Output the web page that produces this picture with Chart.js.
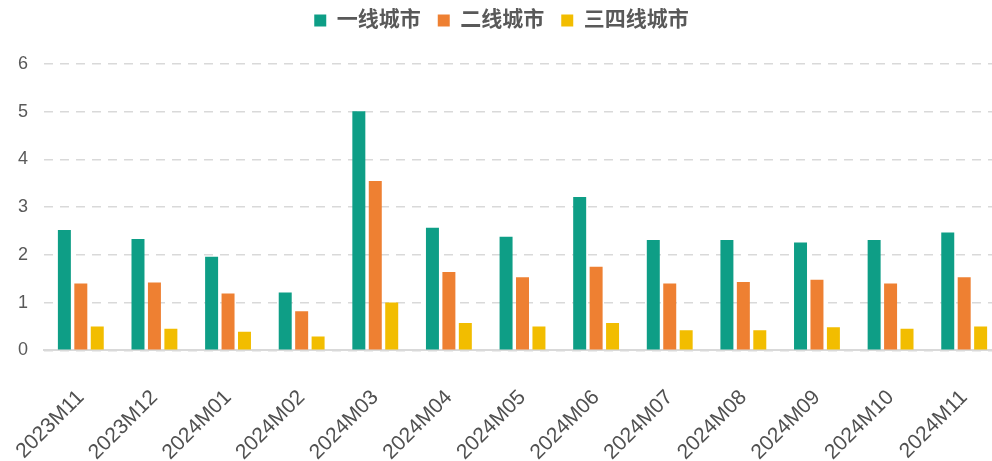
<!DOCTYPE html>
<html>
<head>
<meta charset="utf-8">
<script src="https://cdn.jsdelivr.net/npm/chart.js@4/dist/chart.umd.min.js"></script>
<style>
  html, body { margin: 0; padding: 0; background: #fff; overflow: hidden; }
  #wrap { width: 1001px; height: 461px; }
</style>
</head>
<body>
<div id="wrap"><canvas id="cityChart"></canvas></div>
<script>
// months on the x axis
const months = ["2023M11", "2023M12", "2024M01", "2024M02", "2024M03", "2024M04", "2024M05",
                "2024M06", "2024M07", "2024M08", "2024M09", "2024M10", "2024M11"];
// values
const tier1 = [2.52, 2.33, 1.96, 1.21, 5.01, 2.57, 2.38, 3.21, 2.31, 2.31, 2.26, 2.31, 2.47];
const tier2 = [1.40, 1.42, 1.19, 0.82, 3.55, 1.64, 1.53, 1.75, 1.40, 1.43, 1.48, 1.40, 1.53];
const tier34 = [0.50, 0.45, 0.39, 0.29, 1.00, 0.57, 0.50, 0.57, 0.42, 0.42, 0.48, 0.45, 0.50];
const seriesNames = ["一线城市", "二线城市", "三四线城市"];
const colors = ["#0E9E86", "#EE8032", "#F2BD00"];

const font = "'Liberation Sans', 'Noto Sans CJK SC', sans-serif";

// push the plot down below the legend
const legendSpace = {
  id: "legendSpace",
  beforeInit(chart) {
    const fit = chart.legend.fit;
    chart.legend.fit = function () {
      fit.bind(chart.legend)();
      this.height = 71;
    };
  }
};

new Chart("cityChart", {
  type: "bar",
  data: {
    labels: months,
    datasets: [tier1, tier2, tier34].map((d, i) => ({
      label: seriesNames[i],
      data: d,
      backgroundColor: colors[i],
      categoryPercentage: 0.67,
      barPercentage: 0.79
    }))
  },
  options: {
    responsive: true,
    maintainAspectRatio: false,
    animation: false,
    events: [],
    layout: { padding: { top: -7, right: 0, left: 2, bottom: -31 } },
    plugins: {
      legend: {
        position: "top",
        labels: {
          boxWidth: 12,
          boxHeight: 12,
          padding: 17,
          color: "#595959",
          font: { family: font, size: 21, weight: "bold" }
        }
      },
      tooltip: { enabled: false }
    },
    scales: {
      x: {
        grid: { display: false },
        border: { color: "#d9d9d9", width: 2 },
        ticks: {
          color: "#505050",
          font: { family: font, size: 21 },
          minRotation: 45,
          maxRotation: 45,
          padding: 27
        },
        afterFit(scale) {
          // labels may run off the left edge like in the original
          scale.paddingLeft = 0;
          scale.paddingRight = 0;
        }
      },
      y: {
        min: 0,
        max: 6,
        border: { display: false, dash: [9, 7] },
        grid: { color: "#d9d9d9", lineWidth: 1.5, drawTicks: false },
        ticks: {
          stepSize: 1,
          color: "#595959",
          font: { family: font, size: 18 },
          padding: 16
        }
      }
    }
  },
  plugins: [legendSpace]
});
</script>
</body>
</html>
